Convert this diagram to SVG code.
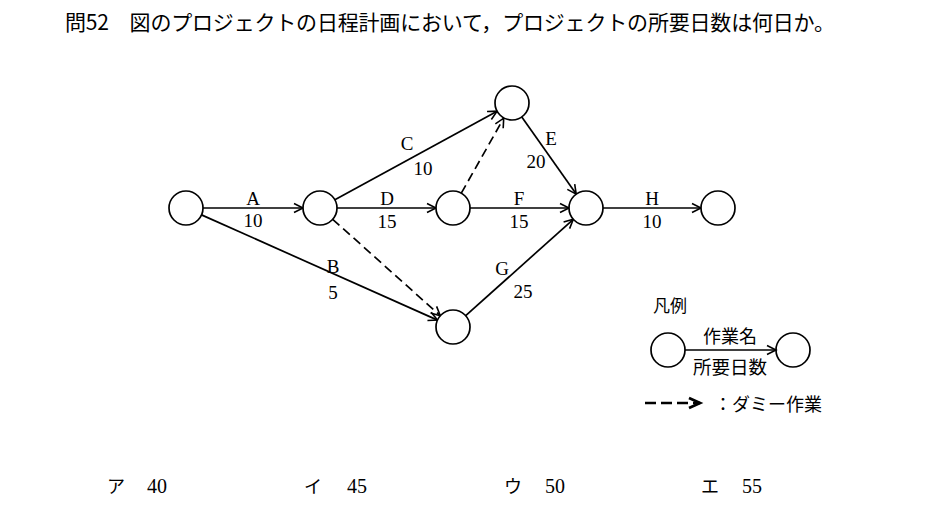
<svg xmlns="http://www.w3.org/2000/svg" width="950" height="530" viewBox="0 0 950 530">
<style>
.node{fill:#fff;stroke:#000;stroke-width:1.7}
.edge{stroke:#000;stroke-width:1.7;fill:none;marker-end:url(#arr)}
.dash{stroke-dasharray:9 5}
.lbl{font-family:"Liberation Serif","Times New Roman",serif;font-size:19px;fill:#000;text-anchor:middle}
.jp{font-family:"Noto Sans CJK JP","Noto Sans",sans-serif;fill:#000}
.ans{font-family:"Liberation Serif",serif;font-size:20px;fill:#000}
</style>
<defs>
<marker id="arr" viewBox="-11 -6 12 12" refX="0" refY="0" markerWidth="12" markerHeight="12" markerUnits="userSpaceOnUse" orient="auto" overflow="visible">
<path d="M-9,-4.5 L0,0 L-9,4.5" fill="none" stroke="#000" stroke-width="1.6"/>
</marker>
<marker id="arrb" viewBox="-11 -6 12 12" refX="0" refY="0" markerWidth="12" markerHeight="12" markerUnits="userSpaceOnUse" orient="auto" overflow="visible">
<path d="M-11,-5 L0,0 L-11,5" fill="none" stroke="#000" stroke-width="2.8"/>
</marker>
</defs>
<rect width="950" height="530" fill="#fff"/>
<text class="jp" x="65" y="30" font-size="21" textLength="770" lengthAdjust="spacing">問52　図のプロジェクトの日程計画において，プロジェクトの所要日数は何日か。</text>

<g id="connectors">
<line class="edge" x1="203" y1="208" x2="303" y2="208"/>
<line class="edge" x1="201.5" y1="214.9" x2="437.5" y2="320.1"/>
<line class="edge" x1="334.9" y1="199.8" x2="497.1" y2="111.2"/>
<line class="edge" x1="337" y1="208" x2="436" y2="208"/>
<line class="edge dash" x1="332.7" y1="219.3" x2="440.3" y2="315.7"/>
<line class="edge dash" x1="461.3" y1="193.2" x2="503.7" y2="118.2"/>
<line class="edge" x1="521.8" y1="116.9" x2="576.2" y2="194.1"/>
<line class="edge" x1="470" y1="208" x2="569" y2="208"/>
<line class="edge" x1="465.7" y1="315.7" x2="573.3" y2="219.3"/>
<line class="edge" x1="603" y1="208" x2="701" y2="208"/>
</g>

<g id="edge-labels">
<text class="lbl" x="253" y="205">A</text><text class="lbl" x="253" y="227">10</text>
<text class="lbl" x="333" y="273">B</text><text class="lbl" x="333" y="299">5</text>
<text class="lbl" x="407" y="150">C</text><text class="lbl" x="423" y="175">10</text>
<text class="lbl" x="387" y="205">D</text><text class="lbl" x="387" y="228">15</text>
<text class="lbl" x="551" y="145">E</text><text class="lbl" x="536" y="168">20</text>
<text class="lbl" x="519" y="205">F</text><text class="lbl" x="519" y="228">15</text>
<text class="lbl" x="502" y="275">G</text><text class="lbl" x="523" y="298">25</text>
<text class="lbl" x="652" y="205">H</text><text class="lbl" x="652" y="228">10</text>
</g>

<g id="n1"><circle class="node" cx="186" cy="208" r="17"/></g>
<g id="n2"><circle class="node" cx="320" cy="208" r="17"/></g>
<g id="n3"><circle class="node" cx="512" cy="103" r="17"/></g>
<g id="n4"><circle class="node" cx="453" cy="208" r="17"/></g>
<g id="n5"><circle class="node" cx="586" cy="208" r="17"/></g>
<g id="n6"><circle class="node" cx="718" cy="208" r="17"/></g>
<g id="n7"><circle class="node" cx="453" cy="327" r="17"/></g>

<g id="legend">
<text class="jp" x="653" y="312" font-size="17">凡例</text>
<circle class="node" cx="668" cy="350" r="17"/>
<circle class="node" cx="793" cy="350" r="17"/>
<line class="edge" x1="685" y1="350" x2="776" y2="350"/>
<text class="jp" x="730" y="343" font-size="18" text-anchor="middle">作業名</text>
<text class="jp" x="730" y="374" font-size="18.5" text-anchor="middle">所要日数</text>
<line x1="645" y1="403" x2="700" y2="403" stroke="#000" stroke-width="2.5" stroke-dasharray="11 5" marker-end="url(#arrb)"/>
<text class="jp" x="714" y="411" font-size="18">：ダミー作業</text>
</g>

<g id="answers">
<text class="jp" x="107" y="493" font-size="18">ア</text><text class="ans" x="147" y="493">40</text>
<text class="jp" x="304" y="493" font-size="18">イ</text><text class="ans" x="347" y="493">45</text>
<text class="jp" x="504" y="493" font-size="18">ウ</text><text class="ans" x="545" y="493">50</text>
<text class="jp" x="701" y="493" font-size="18">エ</text><text class="ans" x="742" y="493">55</text>
</g>
</svg>
